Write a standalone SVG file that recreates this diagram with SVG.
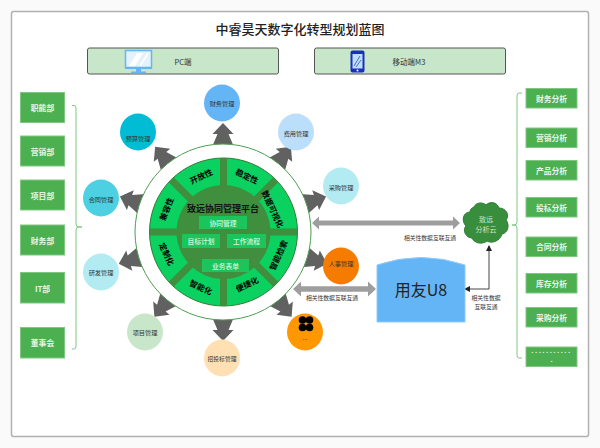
<svg xmlns="http://www.w3.org/2000/svg" width="600" height="448" viewBox="0 0 600 448">
<defs>
<style>
text{font-family:"Noto Sans CJK SC","Liberation Sans",sans-serif;text-anchor:middle;dominant-baseline:central}
.box{fill:#4CAF50;stroke:#81C784;stroke-width:1}
.bt{fill:#E8F5E9;font-size:7.8px;font-weight:700}
.dots{fill:#E8F5E9;font-size:7.800px;font-weight:700;font-family:"Liberation Sans",sans-serif}
.ct{fill:#333;font-size:6.2px}
.lab{fill:#333;font-size:5.8px}
.sec{fill:#000;font-size:8px;font-weight:700}
.inner{fill:#1CC45C}
.it{fill:#D8F8E0;font-size:6.8px;font-weight:500}
.brace{fill:none;stroke:#81C784;stroke-width:1}
.top{fill:#C8E6C9;stroke:#555;stroke-width:1}
.ga{fill:#9E9E9E}
</style>
<path id="ar" d="M-11 -85L-5.500 -98L-10.500 -98L0 -109L10.500 -98L5.500 -98L11 -85Z" fill="#616161"/>
<marker id="tip" markerWidth="6" markerHeight="6" refX="5" refY="3" orient="auto-start-reverse" markerUnits="userSpaceOnUse"><path d="M0 0L6 3L0 6Z" fill="#222"/></marker>
</defs>
<rect width="600" height="448" fill="#FAFAFA"/>
<rect x="11.500" y="11.500" width="577" height="425" rx="2" fill="#fff" stroke="#B0B0B0" stroke-width="1.500"/>
<text x="300" y="28" font-size="13" font-weight="500" fill="#222">中睿昊天数字化转型规划蓝图</text>

<g id="pc">
<rect class="top" x="87.500" y="48" width="191" height="26" rx="2"/>
<rect x="125.500" y="50.500" width="26" height="17" fill="#E3F2FD" stroke="#64B5F6" stroke-width="1.500"/>
<path d="M129 66L137 53H143L135 66ZM139 66L147 53H149L141 66Z" fill="#fff"/>
<rect x="125" y="67" width="27" height="2" fill="#64B5F6"/>
<rect x="136" y="69" width="5" height="3" fill="#64B5F6"/>
<rect x="131" y="71.500" width="15" height="1.800" fill="#64B5F6"/>
<text class="ct" style="font-size:7.500px" x="183" y="61">PC端</text>
</g>
<g id="mobile">
<rect class="top" x="314.500" y="48" width="191" height="26" rx="2"/>
<rect x="350.500" y="50.500" width="14" height="22" rx="2" fill="#1A2FC0"/>
<rect x="352.500" y="54" width="10" height="14.500" fill="#BBDEFB"/>
<path d="M354 66L360 56M356 67L361 60" stroke="#5C6BC0" stroke-width="1"/>
<circle cx="357.500" cy="70.500" r="1" fill="#fff"/>
<text class="ct" style="font-size:7.500px" x="409" y="61">移动端M3</text>
</g>

<g id="connectors">
<g id="radial-arrows">
<use href="#ar" transform="translate(223 232)"/>
<use href="#ar" transform="translate(223 232) rotate(38.500)"/>
<use href="#ar" transform="translate(223 232) rotate(71)"/>
<use href="#ar" transform="translate(223 232) rotate(107)"/>
<use href="#ar" transform="translate(223 232) rotate(141)"/>
<use href="#ar" transform="translate(223 232) rotate(180)"/>
<use href="#ar" transform="translate(223 232) rotate(-141)"/>
<use href="#ar" transform="translate(223 232) rotate(-107)"/>
<use href="#ar" transform="translate(223 232) rotate(-71)"/>
<use href="#ar" transform="translate(223 232) rotate(-38.500)"/>
</g>
<path class="ga" d="M312 223L319 216.500V220.500H453V216.500L460 223L453 229.500V225.500H319V229.500Z"/>
<path class="ga" d="M293 289L301 281.500V286.300H368V281.500L376 289L368 296.500V291.700H301V296.500Z"/>
<path d="M465 289H489V246" fill="none" stroke="#444" stroke-width="1" marker-start="url(#tip)" marker-end="url(#tip)"/>
<text class="lab" x="430" y="237">相关性数据互联互通</text>
<text class="lab" x="332" y="297">相关性数据互联互通</text>
<text class="lab" x="486" y="297.500">相关性数据</text>
<text class="lab" x="486" y="306">互联互通</text>
</g>

<g id="platform">
<circle cx="223" cy="232" r="88" fill="#fff" stroke="#4C9F50" stroke-width="1"/>
<circle cx="223.500" cy="232" r="74" fill="#0BD160" stroke="#2E7D32" stroke-width="1"/>
<g stroke="#3F8F3F" stroke-width="7">
<path d="M149.500 232H297.500M223.500 158V306"/>
<path d="M171 179.500L276 284.500M171 284.500L276 179.500"/>
</g>
<circle cx="223.500" cy="232" r="47" fill="#3F8F3F"/>
<text x="223" y="208" font-size="9" font-weight="700" fill="#111">致远协同管理平台</text>
<rect class="inner" x="199" y="216" width="48" height="13"/>
<text class="it" x="223" y="222.500">协同管理</text>
<rect class="inner" x="182" y="234" width="38" height="14"/>
<text class="it" x="201" y="241">目标计划</text>
<rect class="inner" x="227" y="234" width="39" height="14"/>
<text class="it" x="246.500" y="241">工作流程</text>
<rect class="inner" x="202" y="259" width="47" height="13"/>
<text class="it" x="225.500" y="265.500">业务表单</text>
<text class="sec" transform="translate(201 176) rotate(-25)">开放性</text>
<text class="sec" transform="translate(247 176) rotate(25)">稳定性</text>
<text class="sec" transform="translate(273 209) rotate(65)">数据可视化</text>
<text class="sec" transform="translate(166 209) rotate(-68)">兼容性</text>
<text class="sec" transform="translate(167 254) rotate(65)">定制化</text>
<text class="sec" transform="translate(201 287) rotate(25)">智能化</text>
<text class="sec" transform="translate(247 284) rotate(-25)">便捷化</text>
<text class="sec" transform="translate(278 255) rotate(-65)">智能检索</text>
</g>

<g id="n-finance"><ellipse cx="222" cy="103" rx="18" ry="18.500" fill="#64B5F6"/><text class="ct" x="222" y="103">财务管理</text></g>
<g id="n-budget"><ellipse cx="138" cy="132" rx="18" ry="18.500" fill="#00BCD4"/><text class="ct" x="138" y="138">预算管理</text></g>
<g id="n-contract"><ellipse cx="101" cy="198" rx="18" ry="18.500" fill="#4DD0E1"/><text class="ct" x="101" y="199">合同管理</text></g>
<g id="n-rd"><ellipse cx="101" cy="272" rx="18" ry="18.500" fill="#B2EBF2"/><text class="ct" x="101" y="272">研发管理</text></g>
<g id="n-project"><ellipse cx="145" cy="332" rx="18" ry="18.500" fill="#C8E6C9"/><text class="ct" x="145" y="332">项目管理</text></g>
<g id="n-bid"><ellipse cx="222" cy="358" rx="18" ry="18.500" fill="#FFE0B2"/><text class="ct" x="222" y="358" style="font-size:5.800px">招投标管理</text></g>
<g id="n-more"><ellipse cx="305" cy="332" rx="18" ry="18.500" fill="#FF9800"/>
<g fill="#000"><circle cx="302.500" cy="320" r="3.800"/><circle cx="309.500" cy="320" r="3.800"/><circle cx="302.500" cy="327.500" r="3.800"/><circle cx="309.500" cy="327.500" r="3.800"/></g>
<text class="ct" x="305" y="337">...</text></g>
<g id="n-hr"><ellipse cx="341" cy="266" rx="18" ry="18.500" fill="#F57C00"/><text class="ct" x="341" y="263">人事管理</text></g>
<g id="n-cost"><ellipse cx="296" cy="132" rx="18" ry="18.500" fill="#BBDEFB"/><text class="ct" x="296" y="133">费用管理</text></g>
<g id="n-purchase"><ellipse cx="341" cy="186" rx="18" ry="18.500" fill="#B2EBF2"/><text class="ct" x="341" y="187">采购管理</text></g>

<g id="u8">
<path d="M377 265Q421 250 465 265V322H377Z" fill="#64B5F6" stroke="#90CAF9" stroke-width="1"/>
<text x="421" y="289" font-size="16" fill="#222">用友U8</text>
</g>
<g id="cloud">
<path d="M474 207C476 202 483 202 486 205C490 201 497 202 499 208C506 208 510 215 506 220C510 225 508 233 502 234C500 241 492 244 487 241C482 245 474 243 472 238C466 238 462 230 466 226C461 221 463 212 470 212C470 209 472 208 474 207Z" fill="#388E3C" stroke="#2E7D32" stroke-width="1"/>
<text x="486" y="218.500" font-size="7" fill="#C8E6C9">致远</text>
<text x="486" y="228.500" font-size="7" fill="#C8E6C9">分析云</text>
</g>

<g id="departments">
<rect class="box" x="20.500" y="92.500" width="44" height="30"/><text class="bt" x="42.500" y="107">职能部</text>
<rect class="box" x="20.500" y="136" width="44" height="30"/><text class="bt" x="42.500" y="151">营销部</text>
<rect class="box" x="20.500" y="180" width="44" height="30"/><text class="bt" x="42.500" y="195">项目部</text>
<rect class="box" x="20.500" y="225" width="44" height="30"/><text class="bt" x="42.500" y="240">财务部</text>
<rect class="box" x="20.500" y="272.500" width="44" height="30.500"/><text class="bt" x="42.500" y="288">IT部</text>
<rect class="box" x="20.500" y="327.500" width="44" height="30.500"/><text class="bt" x="42.500" y="342.500">董事会</text>
<path class="brace" d="M72 105.500H74Q76 105.500 76 108V224Q76 227 79 227H82H79Q76 227 76 230V346Q76 349 74 349H72"/>
</g>
<g id="analysis">
<rect class="box" x="526" y="88.500" width="51" height="19.500"/><text class="bt" x="551.500" y="98">财务分析</text>
<rect class="box" x="526" y="128" width="51" height="19.500"/><text class="bt" x="551.500" y="137.500">营销分析</text>
<rect class="box" x="526" y="160.500" width="51" height="19.500"/><text class="bt" x="551.500" y="170">产品分析</text>
<rect class="box" x="526" y="197.500" width="51" height="19.500"/><text class="bt" x="551.500" y="207">投标分析</text>
<rect class="box" x="526" y="237" width="51" height="19.500"/><text class="bt" x="551.500" y="246.500">合同分析</text>
<rect class="box" x="526" y="273.500" width="51" height="19.500"/><text class="bt" x="551.500" y="283">库存分析</text>
<rect class="box" x="526" y="307.500" width="51" height="19.500"/><text class="bt" x="551.500" y="317">采购分析</text>
<rect class="box" x="526" y="347" width="51" height="19.500"/><text class="dots" x="551.500" y="350" letter-spacing="1.500">...........</text><text class="dots" x="551.500" y="359.500">.</text>
<path class="brace" d="M522 93H519Q517 93 517 96V222Q517 225 514 225H512H514Q517 225 517 228V355Q517 358 519 358H522"/>
</g>
</svg>
